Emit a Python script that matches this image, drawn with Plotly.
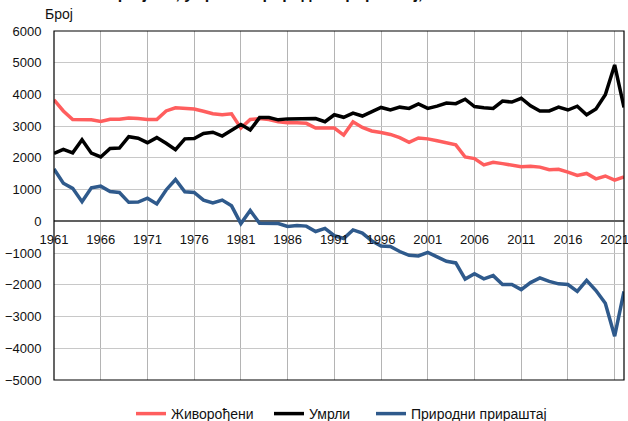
import plotly.graph_objects as go

years = list(range(1961, 2023))

births = [3830, 3480, 3210, 3210, 3200, 3150, 3220, 3220, 3260, 3240,
          3210, 3210, 3480, 3580, 3550, 3540, 3470, 3390, 3360, 3390,
          2940, 3210, 3240, 3210, 3140, 3110, 3110, 3090, 2940, 2940,
          2940, 2720, 3140, 2960, 2850, 2800, 2740, 2640, 2490, 2630,
          2600, 2540, 2480, 2410, 2030, 1980, 1780, 1860, 1820, 1770,
          1720, 1740, 1710, 1630, 1640, 1550, 1450, 1510, 1340, 1430,
          1300, 1400]

deaths = [2140, 2270, 2160, 2570, 2150, 2030, 2300, 2310, 2670, 2620,
          2480, 2640, 2460, 2260, 2600, 2610, 2770, 2810, 2690, 2880,
          3050, 2880, 3270, 3270, 3200, 3230, 3230, 3250, 3240, 3140,
          3360, 3280, 3410, 3320, 3470, 3590, 3510, 3600, 3560, 3700,
          3560, 3630, 3730, 3710, 3850, 3620, 3580, 3560, 3790, 3760,
          3880, 3640, 3480, 3480, 3600, 3510, 3630, 3360, 3540, 3990,
          4930, 3590]

natural = [1650, 1200, 1040, 620, 1060, 1110, 940, 910, 600, 610,
           730, 550, 990, 1320, 930, 910, 670, 580, 670, 490,
           -70, 340, -60, -60, -70, -160, -130, -150, -320, -220,
           -450, -540, -270, -370, -610, -780, -790, -950, -1070, -1090,
           -980, -1120, -1260, -1310, -1820, -1650, -1810, -1710, -1990, -1990,
           -2150, -1930, -1780, -1890, -1970, -1990, -2210, -1860, -2180, -2580,
           -3620, -2210]

series_names = ["Живорођени", "Умрли", "Природни прираштај"]
series_colors = ["#FF5E5E", "#000000", "#2F5A8C"]
y_ticks = list(range(-5000, 6001, 1000))
title_text = "Живорођени, умрли и природни прираштај, 1961–2022"
y_label = "Број"

# plot-area geometry in pixels
L, R, T, B = 54, 624, 31, 380
W, H = R - L, B - T

def px(x):
    return (x - L) / W

def py(y):
    return (B - y) / H

legend_ids = ["legend", "legend2", "legend3"]
legend_left = [137, 275, 377]

fig = go.Figure()
for name, vals, col, lid in zip(series_names, [births, deaths, natural], series_colors, legend_ids):
    fig.add_trace(go.Scatter(x=years, y=vals, mode="lines", name=name, legend=lid,
                             line=dict(color=col, width=3.5)))

font = "Liberation Sans, Arial, sans-serif"
leg_common = dict(orientation="h", yanchor="middle", y=py(414), xanchor="left",
                  font=dict(size=14, color="#111111"), bgcolor="rgba(0,0,0,0)",
                  borderwidth=0)
layout_legends = {}
for lid, lx in zip(legend_ids, legend_left):
    layout_legends[lid] = dict(leg_common, x=px(lx - 6))

fig.update_layout(
    width=628, height=421,
    margin=dict(l=L, r=628 - R, t=T, b=421 - B, autoexpand=False),
    paper_bgcolor="white", plot_bgcolor="white",
    font=dict(family=font, size=13, color="#111111"),
    showlegend=True,
    xaxis=dict(range=[1961, 2022], tick0=1961, dtick=5, showgrid=True,
               gridcolor="#b4b4b4", gridwidth=1, anchor="free", position=py(221),
               ticks="outside", ticklen=6, tickcolor="rgba(0,0,0,0)",
               ticklabeloverflow="allow",
               showline=False, zeroline=False, tickfont=dict(size=13)),
    yaxis=dict(range=[-5000, 6000], tickvals=y_ticks, showgrid=True,
               gridcolor="#c8c8c8", gridwidth=1, zeroline=True, zerolinecolor="#606060",
               zerolinewidth=1.5, showline=False, ticks="outside", ticklen=9,
               tickcolor="rgba(0,0,0,0)", tickfont=dict(size=13)),
    shapes=[dict(type="rect", xref="paper", yref="paper", x0=0, x1=1, y0=0, y1=1,
                 line=dict(color="black", width=1.2), layer="above")],
    annotations=[
        dict(text=y_label, xref="paper", yref="paper", x=px(43), y=py(14),
             xanchor="left", yanchor="middle", showarrow=False, font=dict(size=14)),
        dict(text="<b>" + title_text + "</b>", xref="paper", yref="paper",
             x=px(290), y=py(4), xanchor="center", yanchor="bottom",
             showarrow=False, font=dict(size=16)),
    ],
    **layout_legends,
)
fig.write_html("out.html", config={"displayModeBar": False},
               post_script="document.body.style.margin='0';")
